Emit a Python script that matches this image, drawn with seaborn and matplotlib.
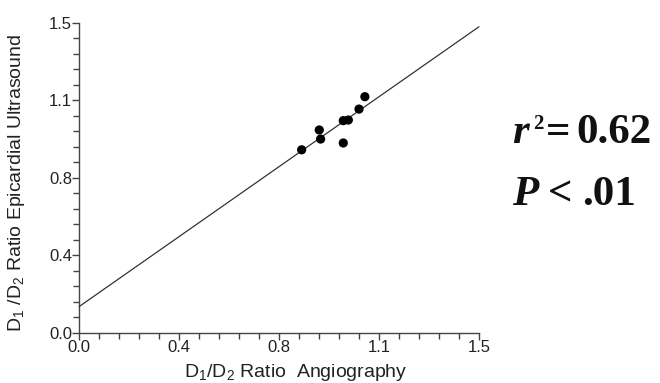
import numpy as np
import pandas as pd
import matplotlib
matplotlib.use("Agg")
import matplotlib.pyplot as plt
from matplotlib.ticker import MultipleLocator
import seaborn as sns

angio = [0.835, 0.901, 0.906, 0.991, 1.010, 0.991, 1.050, 1.072]
ultrasound = [0.885, 0.981, 0.937, 1.026, 1.029, 0.918, 1.082, 1.142]

# fitted regression line
fit_intercept = 0.126
fit_slope = 0.903
fit_x = [0.0, 1.5]

tick_values = [0.0, 0.375, 0.75, 1.125, 1.5]
tick_labels = ["0.0", "0.4", "0.8", "1.1", "1.5"]

sns.set_style("ticks")
plt.rcParams["font.family"] = ["Liberation Sans", "DejaVu Sans"]
plt.rcParams["mathtext.fontset"] = "custom"
plt.rcParams["mathtext.rm"] = "Liberation Sans"

df = pd.DataFrame({"angio": angio, "ultrasound": ultrasound})

fig = plt.figure(figsize=(6.6, 3.83), dpi=100)
ax = fig.add_axes([79 / 660, 1 - 332.7 / 383, 400 / 660, 310 / 383])

line_y = [fit_intercept + fit_slope * x for x in fit_x]
ax.plot(fit_x, line_y, color="#333333", linewidth=0.9, clip_on=False)
sns.scatterplot(data=df, x="angio", y="ultrasound", ax=ax, color="black",
                s=44, edgecolor="none", zorder=3, clip_on=False)

ax.set_xlim(0, 1.5)
ax.set_ylim(0, 1.5)
ax.set_xticks(tick_values)
ax.set_xticklabels(tick_labels)
ax.set_yticks(tick_values)
ax.set_yticklabels(tick_labels)
ax.xaxis.set_minor_locator(MultipleLocator(0.075))
ax.yaxis.set_minor_locator(MultipleLocator(0.075))
ax.tick_params(which="both", direction="out", color="#444444", width=1.0)
ax.tick_params(which="major", length=5, labelsize=12, labelcolor="#222222", pad=0)
ax.tick_params(which="minor", length=4, width=1.0)
for side in ["top", "right"]:
    ax.spines[side].set_visible(False)
for side in ["left", "bottom"]:
    ax.spines[side].set_color("#444444")
    ax.spines[side].set_linewidth(1.0)

ax.set_xlabel(r"D$_\mathregular{1}$/D$_\mathregular{2}$ Ratio  Angiography",
              fontsize=14, color="#222222")
ax.xaxis.set_label_coords((296 - 79) / 400, -(362 - 332.7) / 310)
ax.set_ylabel(r"D$_\mathregular{1}$ /D$_\mathregular{2}$ Ratio Epicardial Ultrasound",
              fontsize=14, color="#222222")
ax.yaxis.set_label_coords((27 - 79) / 400, (332.7 - 183) / 310)

# statistics annotation, pieces laid out left to right
serif = ["Liberation Serif", "DejaVu Serif"]
ink = "#111111"
renderer = fig.canvas.get_renderer()


def write_run(x0, baseline, pieces):
    x = x0
    for text, size, italic, rise, gap in pieces:
        t = fig.text(x / 660, 1 - (baseline - rise) / 383, text, family=serif,
                     fontsize=size, fontweight="bold",
                     style="italic" if italic else "normal",
                     va="baseline", ha="left", color=ink)
        x += t.get_window_extent(renderer).width + gap


write_run(512, 143, [("r", 31, True, 0, 4),
                     ("2", 15, False, 14, 3),
                     ("=", 31, False, 0, 6),
                     ("0.62", 31, False, 0, 0)])
write_run(512, 205, [("P", 31, True, 0, 10),
                     ("<", 31, False, 0, 9),
                     (".01", 31, False, 0, 0)])

fig.savefig("out.png", dpi=100)
